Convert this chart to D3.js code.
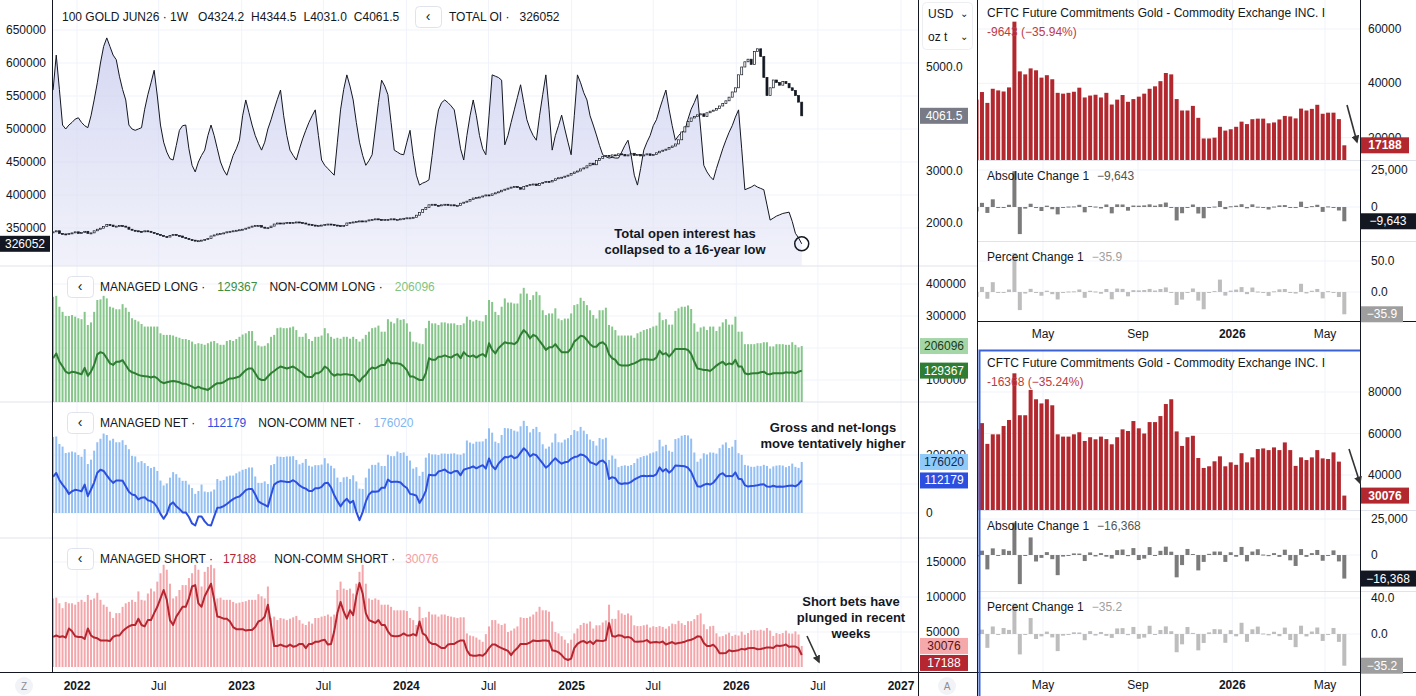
<!DOCTYPE html>
<html>
<head>
<meta charset="utf-8">
<script src="https://cdn.jsdelivr.net/npm/d3@7"></script>
<style>
  body { margin: 0; background: #fff; }
  svg text { font-family: "Liberation Sans", Arial, sans-serif; fill: #131722; white-space: pre; }
</style>
</head>
<body>
<svg id="chart" width="1416" height="696"></svg>
<script>
/* Gold futures: open interest, price and CFTC positioning (weekly, from 2021-11-09) */

// First COT week (Tuesday)
var firstWeek = new Date(2021, 10, 9);

// Total open interest, thousands of contracts
var openInterestK = [
  559,612,560,506,500,506,510,515,517,510,
  505,502,520,544,570,600,625,638,625,612,
  605,580,560,544,506,500,498,500,502,530,
  552,570,589,550,506,480,465,455,453,475,
  498,505,506,470,445,435,450,460,468,490,
  506,490,470,450,438,430,445,460,470,483,
  520,544,525,506,490,478,468,480,500,514,
  530,545,559,520,490,468,460,453,470,485,
  498,510,520,529,490,453,445,440,435,430,
  480,529,560,582,565,544,510,480,460,445,
  452,461,500,540,574,565,552,510,468,465,
  462,461,480,498,460,430,415,418,420,423,
  460,500,529,540,544,540,535,529,500,470,
  453,490,520,544,520,490,470,461,520,582,
  580,578,574,476,490,510,529,548,567,540,
  514,500,490,483,520,552,582,530,468,490,
  505,521,500,480,461,520,582,570,555,544,
  520,506,491,475,461,458,456,457,456,456,
  465,475,483,460,430,415,440,468,480,490,
  505,514,530,545,559,530,505,483,490,495,
  498,515,530,540,552,500,445,435,428,423,
  440,455,470,483,495,505,518,529,470,408,
  410,412,415,412,410,408,385,362,365,368,
  370,372,373,374,360,342,335,326.052
];

// Weekly close of the gold contract, USD/oz
var goldClose = [
  1830,1850,1800,1790,1780,1800,1810,1830,
  1800,1820,1840,1800,1810,1850,1880,1900,
  1930,1970,1960,1930,1940,1950,1940,1920,
  1880,1860,1850,1840,1830,1850,1840,1820,
  1800,1780,1760,1740,1730,1760,1780,1760,
  1750,1720,1700,1680,1670,1660,1660,1670,
  1680,1700,1750,1770,1790,1800,1810,1830,
  1840,1850,1860,1870,1880,1900,1920,1940,
  1950,1950,1920,1900,1910,1940,1980,2000,
  1990,2000,2010,2000,2010,2020,2010,2000,
  1980,1970,1960,1940,1950,1960,1970,1980,
  1970,1960,1950,1940,1950,2000,2010,2020,
  2030,2040,2030,2040,2060,2070,2080,2070,
  2060,2070,2070,2080,2060,2070,2080,2090,
  2100,2100,2110,2150,2200,2260,2300,2350,
  2360,2340,2330,2350,2360,2340,2350,2330,
  2340,2380,2400,2420,2450,2480,2490,2500,
  2520,2540,2530,2560,2580,2600,2630,2650,
  2670,2690,2700,2680,2650,2700,2720,2740,
  2750,2720,2760,2780,2800,2790,2820,2850,
  2870,2880,2900,2920,2950,2980,3000,3040,
  3060,3100,3150,3120,3200,3240,3280,3300,
  3280,3310,3300,3330,3320,3290,3310,3340,
  3300,3320,3290,3310,3330,3300,3320,3350,
  3380,3400,3420,3450,3480,3520,3600,3750,
  3850,3950,4020,4050,4080,4100,4050,4120,
  4150,4170,4200,4250,4300,4350,4420,4520,
  4600,4850,5000,5100,5150,5050,5300,5350,
  5200,4800,4450,4600,4750,4700,4650,4720,
  4680,4600,4550,4450,4324.2,4061.5
];

// Non-commercial long, thousands of contracts
var nonCommLongK = [
  360,363,329,313,300,300,303,298,293,290,
  313,272,280,313,350,352,363,355,329,326,
  321,321,337,326,313,293,288,283,275,267,
  267,267,267,267,246,241,241,241,239,235,
  232,228,228,225,220,212,215,213,210,215,
  220,222,215,210,210,222,225,222,228,235,
  242,246,253,253,222,208,205,207,215,235,
  241,262,264,262,262,264,267,256,235,235,
  246,228,222,235,235,239,262,246,235,229,
  232,229,235,235,229,235,228,220,229,241,
  251,262,264,270,251,251,290,282,277,293,
  288,290,277,251,220,218,214,212,262,285,
  277,277,272,280,280,277,277,277,272,
  272,277,298,288,283,288,285,283,303,350,344,313,303,329,355,342,342,
  339,339,370,388,370,350,365,376,365,318,303,308,308,324,292,287,292,292,
  308,334,337,357,347,334,318,303,292,318,318,326,272,267,256,239,239,239,239,
  239,232,246,251,256,259,262,267,270,311,287,290,273,273,316,324,329,329,
  333,322,277,251,264,267,256,267,267,253,267,280,290,273,273,298,251,251,
  212,212,212,212,215,215,218,218,205,205,212,212,
  212,210,210,218,210,202,206.096
];

// Managed money long, thousands of contracts
var managedLongK = [
  168,183,157,142,126,121,126,124,121,118,
  138,113,126,147,180,187,183,168,152,147,
  157,157,162,147,131,124,121,116,113,112,111,108,111,105,95,90,93,95,97,95,93,88,88,
  84,79,74,79,74,72,69,76,84,90,90,93,100,105,105,108,111,121,131,136,136,
  121,105,100,100,111,121,128,136,142,139,136,139,142,136,128,121,111,109,109,121,121,
  128,142,136,121,113,118,116,118,118,116,116,105,95,108,116,131,139,136,142,147,147,
  166,152,152,152,150,142,131,111,111,105,100,100,121,168,163,163,
  173,173,177,173,170,177,181,
  168,187,177,173,177,170,177,181,173,215,194,183,199,209,218,215,215,
  212,220,241,256,246,230,241,236,222,209,194,202,202,212,199,187,187,187,
  199,220,228,238,236,225,212,204,204,215,218,209,180,168,163,149,145,145,145,
  149,152,157,163,165,165,163,163,170,192,180,184,173,184,197,197,197,197,
  194,181,157,136,134,131,131,128,136,145,152,157,147,152,149,163,142,142,
  121,118,120,121,121,124,126,119,118,121,121,121,
  121,124,123,124,121,126,129.367
];

// Non-commercial short, thousands of contracts
var nonCommShortK = [
  98,99,91,84,93,91,91,89,93,96,93,103,96,98,106,96,89,86,79,70,
  77,77,
  86,91,93,96,93,108,96,95,105,112,108,122,134,146,139,119,98,101,110,117,117,
  127,134,146,139,115,136,143,146,141,98,99,96,96,96,93,91,92,93,94,96,96,
  96,104,101,98,115,70,72,67,70,69,67,69,71,73,67,62,60,65,62,70,70,
  72,73,75,72,75,110,122,112,110,112,105,119,136,146,119,98,96,98,96,89,89,
  89,86,81,81,81,81,80,70,67,60,86,70,71,79,75,75,
  72,75,75,73,72,71,70,
  71,71,48,45,44,42,39,36,47,58,67,67,
  62,60,62,50,52,55,58,71,70,70,72,75,79,86,81,81,
  79,65,50,48,44,39,34,39,48,55,60,63,
  62,65,55,59.6,59.6,63.6,66.5,89,68.8,68.8,
  81,76.5,74.5,76.5,73.6,59.6,58.5,58.5,59.6,60.6,
  56.4,58.2,57.2,58.5,57.3,54.8,58.2,62,61.2,66,
  62.5,60,65.5,65.5,68.4,74.2,76.5,61,54,58.2,
  58.9,48.2,43.4,44.2,46.6,49,44.2,46.1,44.9,50.5,
  46.1,48.5,52.5,52.8,52,53.3,52,55.7,52,44.4,
  48.5,47.2,48.5,52,48,47.7,50.9,46.444,30.076
];

// Managed money short, thousands of contracts
var managedShortK = [
  43,45,43,44,42,55,51,44,43,43,40,55,45,42,41,38,38,38,37,43,
  45,45,
  51,55,58,60,60,69,60,58,67,67,77,86,98,110,96,67,60,72,79,86,86,
  98,115,117,91,86,101,110,119,96,72,71,69,69,65,57,54,54,54,52,53,53,
  57,65,67,72,89,60,30,30,32,30,29,32,29,30,33,33,27,33,33,36,36,
  38,39,32,33,51,77,93,79,69,81,74,101,120,105,77,67,65,63,67,60,60,
  51,45,44,44,45,48,45,45,47,45,65,48,45,36,33,33,
  30,27,27,32,33,33,36,
  38,38,24,17,16,16,17,16,20,27,32,32,
  29,27,25,23,17,23,27,33,33,33,35,38,37,37,38,38,
  37,24,23,21,17,12,10,12,27,33,36,37,
  34,36.8,32.8,38,37.4,37,38.5,62.7,44.4,43.3,
  45.5,44.8,42.1,43,41.5,36.5,36.2,36.5,36.9,38.4,
  34.8,35.5,35.8,34.8,36.5,32.2,34,35.7,33.2,34.2,
  35.1,36.2,38,38.9,40.8,43.8,43.3,34.2,30,30,
  31.7,27.3,19.7,19.7,20,24,22.6,23.1,24,25.9,
  25,26.8,27,27,25.3,25.6,26.7,28,27.8,27.1,
  30.7,30,30.6,32.1,28.8,29.2,29.2,26.831,17.188
];

// Axis tick labels
var timeTickLabels = ['2022', 'Jul', '2023', 'Jul', '2024', 'Jul', '2025', 'Jul', '2026', 'Jul', '2027'];
var oiTicks = [350000, 400000, 450000, 500000, 550000, 600000, 650000];
var priceTicks = [2000, 3000, 5000];
var longTicks = [100000, 200000, 300000, 400000];
var netTicks = [0, 100000, 200000];
var shortTicks = [50000, 100000, 150000];
var cotTickLabels = ['May', 'Sep', '2026', 'May'];

// Number of weeks shown in the CFTC panels on the right
var cotWeeks = 69;

var svg = d3.select('#chart');
var defs = svg.append('defs');

// Weekly dates
var weeks = openInterestK.map(function(d, i) { return d3.timeDay.offset(firstWeek, 7 * i); });

// Values in contracts
var toUnits = function(a) { return a.map(function(v) { return Math.round(v * 1000); }); };
var oi = toUnits(openInterestK),
    ncLong = toUnits(nonCommLongK),
    mmLong = toUnits(managedLongK),
    ncShort = toUnits(nonCommShortK),
    mmShort = toUnits(managedShortK);
var ncNet = ncLong.map(function(v, i) { return v - ncShort[i]; }),
    mmNet = mmLong.map(function(v, i) { return v - mmShort[i]; });

/* ---------- Left chart ---------- */
var plotLeft = 52, plotRight = 918, axisBottom = 672;
var panes = [{top: 0, bottom: 266}, {top: 266, bottom: 402}, {top: 402, bottom: 538}, {top: 538, bottom: 672}];

var x = d3.scaleTime()
    .domain([new Date(2022, 0, 1), new Date(2027, 0, 1)])
    .range([77, 901]);
var tickDates = d3.timeMonth.every(6).range(new Date(2022, 0, 1), new Date(2027, 0, 2));

// Scales of each pane
var yOI = d3.scaleLinear().domain([350000, 650000]).range([228, 30]);
var yPrice = d3.scaleLinear().domain([2000, 5000]).range([223, 67]);
var yLong = d3.scaleLinear().domain([0, 400000]).range([412, 284]);
var yNet = d3.scaleLinear().domain([0, 200000]).range([513, 455]);
var yShort = d3.scaleLinear().domain([0, 150000]).range([667, 562]);

// Clip paths of the panes
panes.forEach(function(p, i) {
    defs.append('clipPath').attr('id', 'clip' + i)
        .append('rect')
        .attr('x', plotLeft).attr('y', p.top)
        .attr('width', plotRight - plotLeft).attr('height', p.bottom - p.top);
});

var grid = svg.append('g');
// Vertical grid lines
grid.selectAll('.vgrid').data(tickDates).enter().append('line')
    .attr('x1', function(d) { return x(d); }).attr('x2', function(d) { return x(d); })
    .attr('y1', 0).attr('y2', axisBottom)
    .attr('stroke', '#f0f3fa');

// Horizontal grid lines of each pane
function hGrid(ticks, scale) {
    grid.selectAll(null).data(ticks).enter().append('line')
        .attr('x1', plotLeft).attr('x2', plotRight)
        .attr('y1', function(d) { return scale(d); }).attr('y2', function(d) { return scale(d); })
        .attr('stroke', '#f0f3fa');
}
hGrid(oiTicks, yOI);
hGrid(longTicks.filter(function(d) { return yLong(d) > 268; }), yLong);
hGrid(netTicks, yNet);
hGrid(shortTicks, yShort);

// Pane separators
svg.selectAll('.sep').data([266, 402, 538]).enter().append('line')
    .attr('x1', 0).attr('x2', 978).attr('y1', function(d) { return d; }).attr('y2', function(d) { return d; })
    .attr('stroke', '#e0e3eb');

/* Pane 1: open interest area and price candles */
var grad = defs.append('linearGradient').attr('id', 'oiFill')
    .attr('gradientUnits', 'userSpaceOnUse')
    .attr('x1', 0).attr('x2', 0).attr('y1', 30).attr('y2', 266);
grad.append('stop').attr('offset', 0).attr('stop-color', '#c5c8ee').attr('stop-opacity', 0.75);
grad.append('stop').attr('offset', 1).attr('stop-color', '#e4e6f6').attr('stop-opacity', 0.55);

var p1 = svg.append('g').attr('clip-path', 'url(#clip0)');
p1.append('path')
    .datum(oi)
    .attr('d', d3.area()
        .x(function(d, i) { return x(weeks[i]); })
        .y0(266)
        .y1(function(d) { return yOI(d); }))
    .attr('fill', 'url(#oiFill)');
p1.append('path')
    .datum(oi)
    .attr('d', d3.line()
        .x(function(d, i) { return x(weeks[i]); })
        .y(function(d) { return yOI(d); }))
    .attr('fill', 'none').attr('stroke', '#131722').attr('stroke-width', 1);

// Candles: open is the prior week's close
p1.selectAll('.candle').data(goldClose).enter().append('rect')
    .attr('x', function(d, i) { return x(weeks[i]) - 1; })
    .attr('width', 2)
    .attr('y', function(d, i) {
        var o = i > 0 ? goldClose[i - 1] : d;
        return yPrice(Math.max(o, d));
    })
    .attr('height', function(d, i) {
        var o = i > 0 ? goldClose[i - 1] : d;
        return Math.max(1, Math.abs(yPrice(o) - yPrice(d)));
    })
    .attr('fill', function(d, i) { return (i > 0 && d < goldClose[i - 1]) ? '#131722' : '#fff'; })
    .attr('stroke', '#131722').attr('stroke-width', 0.7);

// End point marker of open interest
var last = oi.length - 1;
svg.append('circle')
    .attr('cx', x(weeks[last])).attr('cy', yOI(oi[last])).attr('r', 7)
    .attr('fill', 'none').attr('stroke', '#131722').attr('stroke-width', 1.5);

/* Panes 2-4: bars for non-commercial, line for managed money */
function cotPane(idx, scale, bars, line, barColor, lineColor) {
    var g = svg.append('g').attr('clip-path', 'url(#clip' + idx + ')');
    g.selectAll('rect').data(bars).enter().append('rect')
        .attr('x', function(d, i) { return x(weeks[i]) - 1; })
        .attr('width', 2)
        .attr('y', function(d) { return scale(Math.max(0, d)); })
        .attr('height', function(d) { return Math.abs(scale(d) - scale(0)); })
        .attr('fill', barColor);
    g.append('path').datum(line)
        .attr('d', d3.line()
            .x(function(d, i) { return x(weeks[i]); })
            .y(function(d) { return scale(d); }))
        .attr('fill', 'none').attr('stroke', lineColor).attr('stroke-width', 2)
        .attr('stroke-linejoin', 'round');
}
cotPane(1, yLong, ncLong, mmLong, '#86c68a', '#2e7d32');
cotPane(2, yNet, ncNet, mmNet, '#93bff3', '#2c4fe0');
cotPane(3, yShort, ncShort, mmShort, '#f3a7ab', '#b52631');

/* Axes of the left chart */
var axes = svg.append('g').style('font-size', '12px');
// Left axis of pane 1
axes.selectAll('.lt').data(oiTicks).enter().append('text')
    .attr('x', 6).attr('y', function(d) { return yOI(d) + 4; })
    .text(function(d) { return d; });
// Right axis labels (those fully covered by the value boxes are left out)
function rightTicks(ticks, scale, fmt) {
    axes.selectAll(null).data(ticks).enter().append('text')
        .attr('x', 926).attr('y', function(d) { return scale(d) + 4; })
        .text(fmt);
}
rightTicks(priceTicks, yPrice, function(d) { return d.toFixed(1); });
rightTicks([100000, 300000, 400000], yLong, function(d) { return d; });
rightTicks([0, 200000], yNet, function(d) { return d; });
rightTicks(shortTicks, yShort, function(d) { return d; });

// Time axis
axes.selectAll('.xt').data(tickDates).enter().append('text')
    .attr('x', function(d) { return x(d); }).attr('y', 690)
    .attr('text-anchor', 'middle')
    .style('font-weight', function(d, i) { return i % 2 === 0 ? 'bold' : 'normal'; })
    .text(function(d, i) { return timeTickLabels[i]; });

// Frame lines
var frame = svg.append('g').attr('stroke', '#131722').attr('stroke-width', 1);
frame.append('line').attr('x1', 52.5).attr('x2', 52.5).attr('y1', 0).attr('y2', 672);
frame.append('line').attr('x1', 918.5).attr('x2', 918.5).attr('y1', 0).attr('y2', 696);
frame.append('line').attr('x1', 977.5).attr('x2', 977.5).attr('y1', 0).attr('y2', 696);
frame.append('line').attr('x1', 0).attr('x2', 978).attr('y1', 672.5).attr('y2', 672.5);

// Icons on the time axis
[[24, 'Z'], [947, 'A']].forEach(function(d) {
    svg.append('circle').attr('cx', d[0]).attr('cy', 686).attr('r', 9).attr('fill', '#f2f3f6');
    svg.append('text').attr('x', d[0]).attr('y', 690).attr('text-anchor', 'middle')
        .style('font-size', '10px').style('fill', '#8a8d96').text(d[1]);
});

/* Value boxes on the axes */
function valueBox(xPos, w, y, text, bg, fg) {
    svg.append('rect').attr('x', xPos).attr('y', y - 8).attr('width', w).attr('height', 16).attr('fill', bg);
    svg.append('text').attr('x', xPos + w / 2).attr('y', y + 4).attr('text-anchor', 'middle')
        .style('font-size', '12px').style('fill', fg).text(text);
}
valueBox(0, 50, yOI(oi[last]), oi[last], '#131722', '#fff');
valueBox(920, 48, yPrice(goldClose[last]), goldClose[last].toFixed(1), '#787b86', '#fff');

// Keep paired boxes from overlapping
function boxPair(scale, a, b, colA, colB) {
    var ya = scale(a), yb = scale(b);
    if (yb - ya < 17) { yb = ya + 17; }
    valueBox(920, 48, ya, a, colA[0], colA[1]);
    valueBox(920, 48, yb, b, colB[0], colB[1]);
}
boxPair(yLong, ncLong[last], mmLong[last], ['#a5d6a7', '#1b3d1d'], ['#2e7d32', '#fff']);
boxPair(yNet, ncNet[last], mmNet[last], ['#90caf9', '#0d2a52'], ['#2c4fe0', '#fff']);
boxPair(yShort, ncShort[last], mmShort[last], ['#f5a9ab', '#5a1014'], ['#b52631', '#fff']);

/* Legends */
function button(xPos, y) {
    svg.append('rect').attr('x', xPos + 0.5).attr('y', y - 10.5).attr('width', 26).attr('height', 21).attr('rx', 4)
        .attr('fill', '#fff').attr('stroke', '#e0e3eb');
    svg.append('text').attr('x', xPos + 13).attr('y', y + 4).attr('text-anchor', 'middle')
        .style('font-size', '14px').text('‹');
}
// parts: [text, colour, gap before]
function legend(xPos, y, parts) {
    var t = svg.append('text').attr('x', xPos).attr('y', y + 4).style('font-size', '12px');
    parts.forEach(function(p) {
        t.append('tspan').attr('dx', p[2] || 0).style('fill', p[1] || '#131722').text(p[0]);
    });
}
legend(62, 17, [['100 GOLD JUN26 · 1W'], ['O4324.2', null, 10], ['H4344.5', null, 7], ['L4031.0', null, 7], ['C4061.5', null, 7]]);
button(415, 17);
legend(449, 17, [['TOTAL OI ·'], [String(oi[last]), null, 10]]);
button(67, 287);
legend(100, 287, [['MANAGED LONG ·'], [String(mmLong[last]), '#3c8f40', 12], ['NON-COMM LONG ·', null, 12], [String(ncLong[last]), '#7fc483', 12]]);
button(67, 423);
legend(100, 423, [['MANAGED NET ·'], [String(mmNet[last]), '#3050e0', 12], ['NON-COMM NET ·', null, 12], [String(ncNet[last]), '#7fb6ef', 12]]);
button(67, 559);
legend(100, 559, [['MANAGED SHORT ·'], [String(mmShort[last]), '#b52631', 10], ['NON-COMM SHORT ·', null, 18], [String(ncShort[last]), '#f2a0a4', 10]]);

// Currency / unit selector
svg.append('rect').attr('x', 922.5).attr('y', 2.5).attr('width', 50).attr('height', 47).attr('rx', 4)
    .attr('fill', '#fff').attr('stroke', '#eceef2');
svg.append('text').attr('x', 928).attr('y', 18).style('font-size', '12px').text('USD');
svg.append('text').attr('x', 928).attr('y', 41).style('font-size', '12px').text('oz t');
svg.append('text').attr('x', 960).attr('y', 17).style('font-size', '10px').text('⌄');
svg.append('text').attr('x', 960).attr('y', 40).style('font-size', '10px').text('⌄');

/* Annotations */
function note(cx, y, lines) {
    var t = svg.append('text').attr('text-anchor', 'middle').style('font-size', '13px').style('font-weight', 'bold');
    lines.forEach(function(l, i) {
        t.append('tspan').attr('x', cx).attr('y', y + i * 16).text(l);
    });
}
note(685, 238, ['Total open interest has', 'collapsed to a 16-year low']);
note(833, 432, ['Gross and net-longs', 'move tentatively higher']);
note(851, 606, ['Short bets have', 'plunged in recent', 'weeks']);

defs.append('marker').attr('id', 'arrow').attr('viewBox', '0 0 10 10').attr('refX', 8).attr('refY', 5)
    .attr('markerWidth', 5).attr('markerHeight', 5).attr('orient', 'auto')
    .append('path').attr('d', 'M0,0L10,5L0,10z').attr('fill', '#333');
function arrow(x1, y1, x2, y2) {
    svg.append('line').attr('x1', x1).attr('y1', y1).attr('x2', x2).attr('y2', y2)
        .attr('stroke', '#333').attr('stroke-width', 1.6).attr('marker-end', 'url(#arrow)');
}
arrow(807, 636, 819, 662);

/* ---------- Right chart: CFTC panels ---------- */
var cx = d3.scaleTime()
    .domain([new Date(2025, 4, 1), new Date(2026, 4, 1)])
    .range([1043, 1325]);
var cotTickDates = [new Date(2025, 4, 1), new Date(2025, 8, 1), new Date(2026, 0, 1), new Date(2026, 4, 1)];
var start = weeks.length - cotWeeks;

function cotStack(cfg) {
    var series = cfg.series;
    var idx = d3.range(start, weeks.length);
    var vals = idx.map(function(i) { return {date: weeks[i], v: series[i], ch: series[i] - series[i - 1], pc: (series[i] - series[i - 1]) / series[i - 1] * 100}; });
    var lastV = vals[vals.length - 1];
    var g = svg.append('g').style('font-size', '12px');

    // Grid
    cotTickDates.forEach(function(d) {
        g.append('line').attr('x1', cx(d)).attr('x2', cx(d)).attr('y1', cfg.top).attr('y2', cfg.axisY)
            .attr('stroke', '#f0f3fa');
    });
    [[cfg.yBar, cfg.barTicks], [cfg.yAbs, [0, 25000]], [cfg.yPct, cfg.pctTicks]].forEach(function(p) {
        p[1].forEach(function(t) {
            g.append('line').attr('x1', 978).attr('x2', 1360).attr('y1', p[0](t)).attr('y2', p[0](t)).attr('stroke', '#f0f3fa');
        });
    });

    // Clip paths
    [['b', cfg.top, cfg.barBottom], ['a', cfg.barBottom, cfg.absBottom], ['p', cfg.absBottom, cfg.axisY]].forEach(function(c) {
        defs.append('clipPath').attr('id', cfg.id + c[0]).append('rect')
            .attr('x', 978).attr('y', c[1]).attr('width', 382).attr('height', c[2] - c[1]);
    });

    // Position bars
    g.append('g').attr('clip-path', 'url(#' + cfg.id + 'b)')
        .selectAll('rect').data(vals).enter().append('rect')
        .attr('x', function(d) { return cx(d.date) - 2; }).attr('width', 4)
        .attr('y', function(d) { return cfg.yBar(d.v); })
        .attr('height', function(d) { return cfg.yBar(0) - cfg.yBar(d.v); })
        .attr('fill', '#b2282e');
    // Absolute change bars
    g.append('g').attr('clip-path', 'url(#' + cfg.id + 'a)')
        .selectAll('rect').data(vals).enter().append('rect')
        .attr('x', function(d) { return cx(d.date) - 2; }).attr('width', 4)
        .attr('y', function(d) { return cfg.yAbs(Math.max(0, d.ch)); })
        .attr('height', function(d) { return Math.max(1, Math.abs(cfg.yAbs(d.ch) - cfg.yAbs(0))); })
        .attr('fill', '#7b7b7b');
    // Percent change bars
    g.append('g').attr('clip-path', 'url(#' + cfg.id + 'p)')
        .selectAll('rect').data(vals).enter().append('rect')
        .attr('x', function(d) { return cx(d.date) - 2; }).attr('width', 4)
        .attr('y', function(d) { return cfg.yPct(Math.max(0, d.pc)); })
        .attr('height', function(d) { return Math.max(1, Math.abs(cfg.yPct(d.pc) - cfg.yPct(0))); })
        .attr('fill', '#bdbdbd');

    // Separators
    [cfg.barBottom, cfg.absBottom].forEach(function(y) {
        g.append('line').attr('x1', 978).attr('x2', 1416).attr('y1', y + 0.5).attr('y2', y + 0.5).attr('stroke', '#e0e3eb');
    });
    g.append('line').attr('x1', 978).attr('x2', 1416).attr('y1', cfg.axisY + 0.5).attr('y2', cfg.axisY + 0.5).attr('stroke', '#131722');

    // Axis labels
    cfg.barTicks.forEach(function(t) { g.append('text').attr('x', 1368).attr('y', cfg.yBar(t) + 4).text(t); });
    [0, 25000].forEach(function(t) { g.append('text').attr('x', 1371).attr('y', cfg.yAbs(t) + 4).text(d3.format(',')(t)); });
    cfg.pctTicks.forEach(function(t) { g.append('text').attr('x', 1371).attr('y', cfg.yPct(t) + 4).text(t.toFixed(1)); });
    cotTickDates.forEach(function(d, i) {
        g.append('text').attr('x', cx(d)).attr('y', cfg.axisY + 17).attr('text-anchor', 'middle')
            .style('font-weight', i === 2 ? 'bold' : 'normal').text(cotTickLabels[i]);
    });

    // Last value boxes
    var bx = 1361, bw = 48;
    g.append('rect').attr('x', bx).attr('y', cfg.yBar(lastV.v) - 8).attr('width', bw).attr('height', 16).attr('fill', '#b2282e');
    g.append('text').attr('x', bx + bw / 2).attr('y', cfg.yBar(lastV.v) + 4).attr('text-anchor', 'middle')
        .style('fill', '#fff').style('font-weight', 'bold').text(lastV.v);
    var absText = d3.format(',')(lastV.ch);
    g.append('rect').attr('x', bx).attr('y', cfg.yAbs(lastV.ch) - 8).attr('width', 55).attr('height', 16).attr('fill', '#131722');
    g.append('text').attr('x', bx + 27).attr('y', cfg.yAbs(lastV.ch) + 4).attr('text-anchor', 'middle')
        .style('fill', '#fff').text(absText);
    var pctText = d3.format('.1f')(lastV.pc);
    g.append('rect').attr('x', bx).attr('y', cfg.yPct(lastV.pc) - 8).attr('width', 42).attr('height', 16).attr('fill', '#9e9e9e');
    g.append('text').attr('x', bx + 21).attr('y', cfg.yPct(lastV.pc) + 4).attr('text-anchor', 'middle')
        .style('fill', '#fff').text(pctText);

    // Legends
    g.append('text').attr('x', 987).attr('y', cfg.top + 17).text('CFTC Future Commitments Gold - Commodity Exchange INC. I');
    g.append('text').attr('x', 987).attr('y', cfg.top + 36).style('fill', '#c0393f')
        .text(String(lastV.ch).replace('\u2212', '-') + ' (' + d3.format('.2f')(lastV.pc) + '%)');
    var t1 = g.append('text').attr('x', 987).attr('y', cfg.barBottom + 20);
    t1.append('tspan').text('Absolute Change 1');
    t1.append('tspan').attr('dx', 8).style('fill', '#555').text(absText);
    var t2 = g.append('text').attr('x', 987).attr('y', cfg.absBottom + 20);
    t2.append('tspan').text('Percent Change 1');
    t2.append('tspan').attr('dx', 8).style('fill', '#a0a0a0').text(pctText);
}

cotStack({id: 'top', series: mmShort, top: 0, barBottom: 160, absBottom: 241, axisY: 321,
    yBar: d3.scaleLinear().domain([0, 60000]).range([192, 29]), barTicks: [20000, 40000, 60000],
    yAbs: d3.scaleLinear().domain([0, 25000]).range([207, 170]),
    yPct: d3.scaleLinear().domain([0, 50]).range([292, 261]), pctTicks: [0, 50]});
cotStack({id: 'bot', series: ncShort, top: 350, barBottom: 510, absBottom: 591, axisY: 672,
    yBar: d3.scaleLinear().domain([40000, 80000]).range([475, 392]), barTicks: [40000, 60000, 80000],
    yAbs: d3.scaleLinear().domain([0, 25000]).range([555, 519]),
    yPct: d3.scaleLinear().domain([0, 40]).range([634, 598]), pctTicks: [0, 40]});

// Right axis border and selected pane outline
svg.append('line').attr('x1', 1360.5).attr('x2', 1360.5).attr('y1', 0).attr('y2', 696).attr('stroke', '#131722');
svg.append('path').attr('d', 'M1360,350.5H979.5V696').attr('fill', 'none').attr('stroke', '#3a62d6').attr('stroke-width', 2);

arrow(1347, 105, 1357, 142);
arrow(1349, 449, 1360, 483);
</script>
</body>
</html>
